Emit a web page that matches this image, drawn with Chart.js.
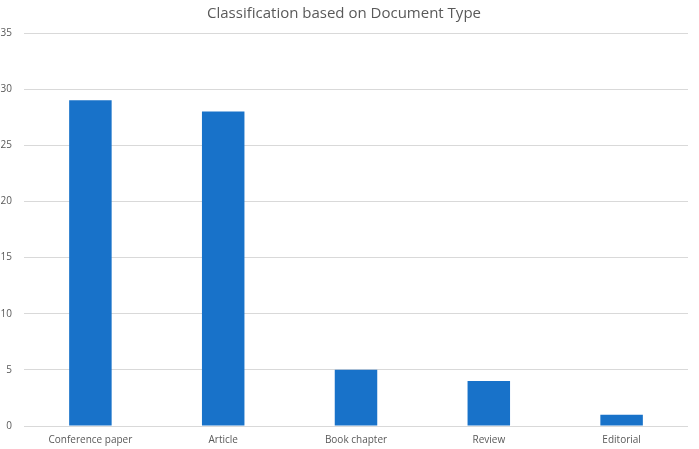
<!DOCTYPE html>
<html>
<head>
<meta charset="utf-8">
<script src="https://cdn.jsdelivr.net/npm/chart.js@4"></script>
<style>
    html, body { margin: 0; padding: 0; background: #fff; }
    #wrap { width: 699px; height: 449px; }
</style>
</head>
<body>
<div id="wrap"><canvas id="docChart" width="699" height="449"></canvas></div>
<script>
// Chart data
const categories = ['Conference paper', 'Article', 'Book chapter', 'Review', 'Editorial'];
const documentCounts = [29, 28, 5, 4, 1];
const yTicks = [0, 5, 10, 15, 20, 25, 30, 35];

const barColor = '#1872c9';
const textColor = '#595959';
const gridColor = '#d9d9d9';

const ctx = document.getElementById('docChart').getContext('2d');

new Chart(ctx, {
    type: 'bar',
    data: {
        labels: categories,
        datasets: [{
            label: 'Documents',
            data: documentCounts,
            backgroundColor: barColor,
            categoryPercentage: 1,
            barPercentage: 0.32
        }]
    },
    options: {
        responsive: false,
        animation: false,
        layout: {
            padding: { top: 5, right: 11, bottom: 0, left: 0 }
        },
        plugins: {
            legend: { display: false },
            tooltip: { enabled: false },
            title: {
                display: true,
                text: 'Classification based on Document Type',
                color: textColor,
                font: { family: 'Open Sans', size: 15, weight: 'normal' },
                padding: { top: 0, bottom: 10 }
            }
        },
        scales: {
            x: {
                afterFit: scale => { scale.height = 23; },
                grid: { display: false, drawTicks: false },
                border: { display: false },
                ticks: {
                    color: textColor,
                    font: { family: 'Open Sans', size: 10 },
                    padding: 8,
                    maxRotation: 0
                }
            },
            y: {
                min: 0,
                max: yTicks[yTicks.length - 1],
                afterBuildTicks: scale => {
                    scale.ticks = yTicks.map(v => ({ value: v }));
                },
                afterFit: scale => { scale.width = 24; },
                grid: { color: gridColor, drawTicks: false, lineWidth: 1 },
                border: { display: false },
                ticks: {
                    color: textColor,
                    font: { family: 'Open Sans', size: 10 },
                    padding: 12
                }
            }
        }
    }
});
</script>
</body>
</html>
